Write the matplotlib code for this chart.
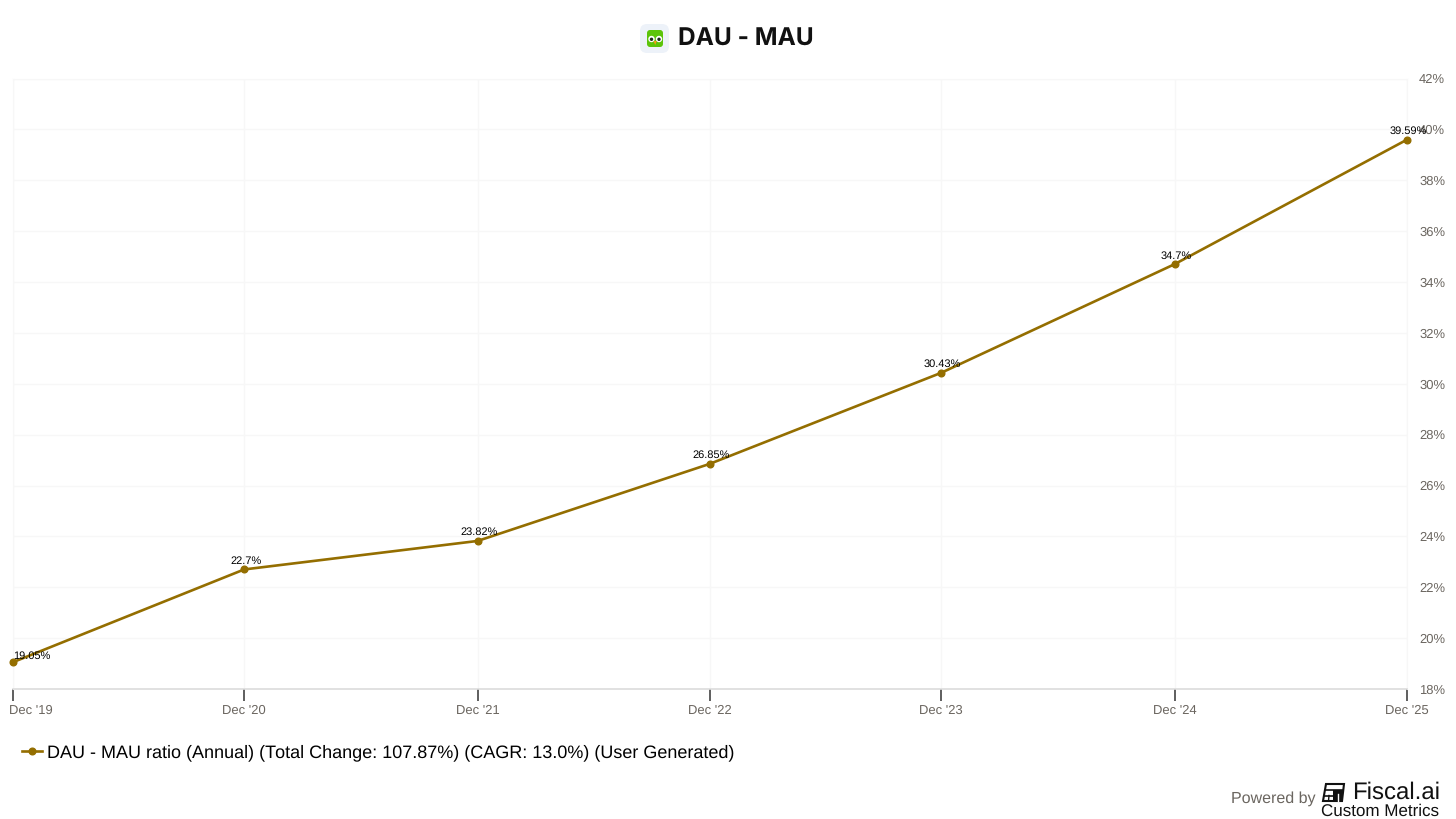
"""
DAU - MAU ratio chart
"""

import matplotlib
matplotlib.use('Agg')
import matplotlib.pyplot as plt
import matplotlib.dates as mdates
from matplotlib.patches import FancyBboxPatch, Circle, Polygon, Rectangle
from matplotlib.transforms import ScaledTranslation
import pandas as pd

# ---------------------------------------------------------------------------- #
# Data
# ---------------------------------------------------------------------------- #
dates = pd.to_datetime(['2019-12-31', '2020-12-29', '2021-12-31', '2022-12-31',
                        '2023-12-30', '2024-12-31', '2025-12-31'])
ratio = [19.05, 22.7, 23.82, 26.85, 30.43, 34.7, 39.59]
point_labels = ['19.05%', '22.7%', '23.82%', '26.85%', '30.43%', '34.7%', '39.59%']
x_labels = ["Dec '19", "Dec '20", "Dec '21", "Dec '22", "Dec '23", "Dec '24", "Dec '25"]
y_ticks = list(range(18, 44, 2))
legend_label = 'DAU - MAU ratio (Annual) (Total Change: 107.87%) (CAGR: 13.0%) (User Generated)'

# ---------------------------------------------------------------------------- #
# Options
# ---------------------------------------------------------------------------- #
line_colour = '#946e00'
grey_text = '#6b6660'
W, H = 1456, 819

plt.rcParams['font.family'] = ['Liberation Sans', 'DejaVu Sans']
plt.rcParams['text.hinting'] = 'no_hinting'
plt.rcParams['text.hinting_factor'] = 1

fig = plt.figure(figsize=(W / 100, H / 100), dpi=100, facecolor='white')
ax = fig.add_axes([12.7 / W, 1 - 689 / H, (1406.7 - 12.7) / W, (689 - 78.5) / H])

# ---------------------------------------------------------------------------- #
# Plot
# ---------------------------------------------------------------------------- #
ax.plot(dates, ratio, color=line_colour, lw=1.9, marker='o', ms=4.8,
        clip_on=False, zorder=3, label=legend_label)

for i, (date, value, text) in enumerate(zip(dates, ratio, point_labels)):
    # first label sits against the left edge of the plot
    if i == 0:
        ax.annotate(text, (date, value), xytext=(0, 0.5), textcoords='offset points',
                    ha='left', va='bottom', fontsize=8, color='black', zorder=4,
                    annotation_clip=False)
    else:
        ax.annotate(text, (date, value), xytext=(1, 2.5), textcoords='offset points',
                    ha='center', va='bottom', fontsize=8, color='black', zorder=4,
                    annotation_clip=False)

ax.set_xlim(dates[0], dates[-1])
ax.set_ylim(18, 42)
ax.set_xticks(mdates.date2num(dates))
ax.set_xticklabels(x_labels)
ax.set_yticks(y_ticks)
ax.set_yticklabels([f'{tick}%' for tick in y_ticks])
ax.yaxis.tick_right()

ax.tick_params(axis='x', length=8.5, width=1.1, color='#333333', pad=2.5,
               labelsize=9.5, labelcolor=grey_text)
ax.tick_params(axis='y', length=0, pad=9, labelsize=9.6, labelcolor=grey_text)

first_label = ax.get_xticklabels()[0]
first_label.set_ha('left')
first_label.set_transform(first_label.get_transform()
                          + ScaledTranslation(-4 / 100, 0, fig.dpi_scale_trans))

ax.grid(color='#f7f7f7', lw=1)
ax.set_axisbelow(True)
for side in ['top', 'left', 'right']:
    ax.spines[side].set_color('#f7f7f7')
ax.spines['bottom'].set_color('#dcdcdc')
ax.spines['bottom'].set_linewidth(1.2)

ax.legend(loc='center left', bbox_to_anchor=(22 / W, 1 - 752.5 / H),
          bbox_transform=fig.transFigure, frameon=False, fontsize=13,
          handlelength=1.1, handletextpad=0.3, borderpad=0, borderaxespad=0)

# ---------------------------------------------------------------------------- #
# Title, logo and footer, placed in pixel coordinates
# ---------------------------------------------------------------------------- #
over = fig.add_axes([0, 0, 1, 1], zorder=5)
over.set_xlim(0, W)
over.set_ylim(H, 0)
over.axis('off')

over.text(678, 39.5, 'DAU - MAU', family='Inter', weight='bold', fontsize=17.6,
          ha='left', va='center', color='#111111')

# owl logo
over.add_patch(FancyBboxPatch((640, 24), 29, 29, boxstyle='round,pad=0,rounding_size=7',
                              fc='#edf2f9', ec='none'))
over.add_patch(FancyBboxPatch((647, 30), 16, 17, boxstyle='round,pad=0,rounding_size=3',
                              fc='#5cc40a', ec='none'))
for owl_x in [651.5, 659]:
    over.add_patch(Circle((owl_x, 39), 3.2, fc='white', ec='none'))
    over.add_patch(Circle((owl_x, 39.3), 1.7, fc='#1d2b1a', ec='none'))
over.add_patch(Polygon([[653.5, 41], [656.8, 41], [655.2, 45]], fc='#f29d1a', ec='none'))

# footer
over.text(1231, 799, 'Powered by', fontsize=11.4, color=grey_text, ha='left', va='center')
over.text(1352, 793, 'Fiscal.ai', fontsize=17.6, color='#111111', ha='left', va='center')
over.text(1321, 811.5, 'Custom Metrics', fontsize=12.2, color='#111111', ha='left', va='center')

# footer mark
over.add_patch(Polygon([[1326, 784], [1344, 784], [1342, 801], [1323, 801]],
                       fc='white', ec='#111111', lw=1.5))
over.add_patch(Rectangle((1333, 790), 9.5, 11, fc='#111111', ec='none'))
over.plot([1325, 1343], [790, 790], color='#111111', lw=1.2)
over.plot([1324, 1333], [795.5, 795.5], color='#111111', lw=1.2)
over.plot([1329, 1328.5], [795.5, 801], color='#111111', lw=1)
over.plot([1337.5, 1337.5], [794, 801], color='white', lw=1)

fig.savefig('out.png', dpi=100)
plt.close()
